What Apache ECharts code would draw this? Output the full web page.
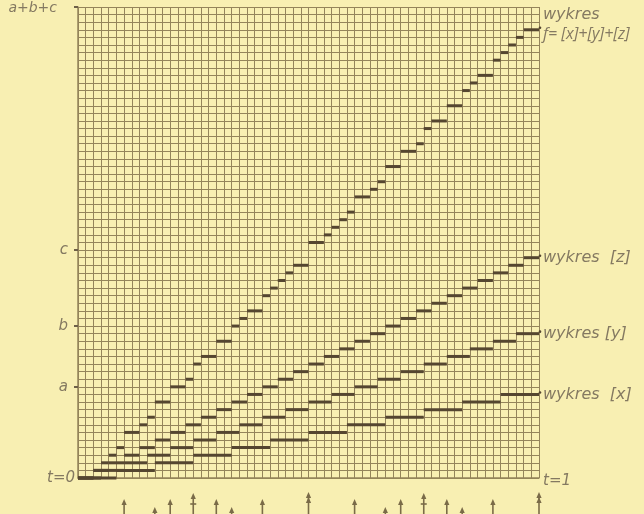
<!DOCTYPE html>
<html><head><meta charset="utf-8">
<script src="https://cdn.jsdelivr.net/npm/echarts@6/dist/echarts.min.js"></script>
<style>html,body{margin:0;padding:0;background:#f8efb2}#c{width:644px;height:514px}</style>
</head><body><div id="c"></div>
<script>
// grid: 60 columns (t from 0 to 1), 62 rows (0 .. a+b+c)
const colCount = 60;
const rowCount = 62;
const yTickValues = [12, 20, 30, 62];
const yTickLabels = ['a', 'b', 'c', 'a+b+c'];

// step graphs: start column of each step and its value
const xStart = [0,5,10,15,20,25,30,35,40,45,50,55];
const xValue = [0,1,2,3,4,5,6,7,8,9,10,11];
const yStart = [0,3,6,9,12,15,18,21,24,27,30,33,36,39,42,45,48,51,54,57];
const yValue = [0,1,2,3,4,5,6,7,8,9,10,11,12,13,14,15,16,17,18,19];
const zStart = [0,2,4,6,8,10,12,14,16,18,20,22,24,26,28,30,32,34,36,38,40,42,44,46,48,50,52,54,56,58];
const zValue = [0,1,2,3,4,5,6,7,8,9,10,11,12,13,14,15,16,17,18,19,20,21,22,23,24,25,26,27,28,29];
const fStart = [0,2,3,4,5,6,8,9,10,12,14,15,16,18,20,21,22,24,25,26,27,28,30,32,33,34,35,36,38,39,40,42,44,45,46,48,50,51,52,54,55,56,57,58];
const fValue = [0,1,2,3,4,6,7,8,10,12,13,15,16,18,20,21,22,24,25,26,27,28,31,32,33,34,35,37,38,39,41,43,44,46,47,49,51,52,53,55,56,57,58,59];

// arrows under the axis: columns where jumps coincide, and which graphs jump together
const arrowCol  = [6,10,12,15,18,20,24,30,36,40,42,45,48,50,54,60];
const arrowKind = ['yz','xz','yz','xy','yz','xz','yz','xyz','yz','xz','yz','xy','yz','xz','yz','xyz'];

// labels at the right end of each graph
const rightLabelValues = [59, 29, 19, 11];
const rightLabelTexts = ['{w|wykres}\n{f|f= [x]+[y]+[z]}', '{w|wykres  [z]}', '{w|wykres [y]}', '{w|wykres  [x]}'];
const tLabelCols = [0, 60];
const tLabelTexts = ['t=0', 't=1'];

const INK = '#554630';
const GRIDC = '#94845a';
const TEXTC = '#847961';
const FONT = 'DejaVu Sans';

function segData(starts, values) {
  return starts.map((s, i) => [s, i + 1 < starts.length ? starts[i + 1] : colCount, values[i]]);
}
function segRender(params, api) {
  const p1 = api.coord([api.value(0), api.value(2)]);
  const p2 = api.coord([api.value(1), api.value(2)]);
  return { type: 'line', shape: { x1: p1[0], y1: p1[1], x2: p2[0], y2: p2[1] },
           style: { stroke: INK, lineWidth: 3, lineCap: 'butt' } };
}
function segSeries(name, starts, values) {
  return { name, type: 'custom', renderItem: segRender, data: segData(starts, values),
           encode: { x: [0, 1], y: 2 }, z: 5, silent: true };
}
const ACOL = '#7a6b48';
function arrowRender(params, api) {
  const base = api.coord([api.value(0), 0]);
  const x = base[0], y0 = base[1];
  const kind = arrowKind[params.dataIndex];
  const top = { yz: 21, xz: 29, xy: 15, xyz: 14 }[kind];
  const head = (ty) => ({ type: 'polygon',
    shape: { points: [[x, y0 + ty], [x - 2.6, y0 + ty + 6], [x + 2.6, y0 + ty + 6]] },
    style: { fill: ACOL } });
  const ch = [
    { type: 'line', shape: { x1: x, y1: y0 + top + 3, x2: x, y2: y0 + 45 }, style: { stroke: ACOL, lineWidth: 1.6 } },
    head(top)
  ];
  if (kind === 'xyz') ch.push(head(top + 5));
  if (kind === 'xy') ch.push({ type: 'line', shape: { x1: x - 3, y1: y0 + top + 11, x2: x + 3, y2: y0 + top + 11 },
                               style: { stroke: ACOL, lineWidth: 1.6 } });
  return { type: 'group', children: ch };
}
function rightLabelRender(params, api) {
  const p = api.coord([api.value(0), api.value(1)]);
  const i = params.dataIndex;
  const multi = i === 0;
  return { type: 'group', children: [
    { type: 'circle', shape: { cx: p[0] + 1, cy: p[1] - 2, r: 1.3 }, style: { fill: INK } },
    { type: 'text', x: p[0] + 4, y: p[1] + (multi ? -5 : 0),
      style: { text: rightLabelTexts[i], fill: TEXTC, align: 'left', verticalAlign: 'middle',
               rich: {
                 w: { fill: TEXTC, fontFamily: FONT, fontStyle: 'italic', fontSize: 16, lineHeight: 20 },
                 f: { fill: TEXTC, fontFamily: 'Open Sans', fontStyle: 'italic', fontSize: 16, lineHeight: 20 }
               } } }
  ] };
}
function tLabelRender(params, api) {
  const p = api.coord([api.value(0), 0]);
  const i = params.dataIndex;
  return { type: 'text', x: p[0] + (i === 0 ? -3 : 4), y: p[1] + (i === 0 ? 0 : 3),
    style: { text: tLabelTexts[i], fill: TEXTC, font: 'italic 15px "' + FONT + '"',
             align: i === 0 ? 'right' : 'left', verticalAlign: 'middle' } };
}

const chart = echarts.init(document.getElementById('c'), null, { renderer: 'canvas' });
chart.setOption({
  backgroundColor: '#f8efb2',
  animation: false,
  grid: { left: 78, right: 105, top: 7, bottom: 36 },
  xAxis: {
    type: 'value', min: 0, max: colCount, interval: 1,
    axisLine: { show: true, lineStyle: { color: GRIDC, width: 1.5 } },
    axisTick: { show: false }, axisLabel: { show: false },
    splitLine: { show: true, lineStyle: { color: GRIDC, width: 1 } }
  },
  yAxis: [{
    type: 'value', min: 0, max: rowCount, interval: 1, position: 'left',
    axisLine: { show: true, lineStyle: { color: GRIDC, width: 1.5 } },
    axisTick: { show: false }, axisLabel: { show: false },
    splitLine: { show: true, lineStyle: { color: GRIDC, width: 1 } }
  }, {
    type: 'value', min: 0, max: rowCount, position: 'left', offset: 0,
    axisLine: { show: false },
    splitLine: { show: false },
    axisTick: { show: true, customValues: yTickValues, length: 4, lineStyle: { color: '#6e6048', width: 2 } },
    axisLabel: {
      show: true, customValues: yTickValues, margin: 10,
      formatter: function (v) { const i = yTickValues.indexOf(v); return i < 0 ? '' : (i === 3 ? '{top|' + yTickLabels[i] + '}' : yTickLabels[i]); },
      color: TEXTC, fontFamily: FONT, fontStyle: 'italic', fontSize: 15,
      rich: { top: { color: TEXTC, fontFamily: FONT, fontStyle: 'italic', fontSize: 14, padding: [2, 11, 0, 0] } }
    }
  }],
  series: [
    segSeries('[x]', xStart, xValue),
    segSeries('[y]', yStart, yValue),
    segSeries('[z]', zStart, zValue),
    segSeries('f', fStart, fValue),
    { type: 'custom', renderItem: arrowRender, data: arrowCol.map(c => [c, 0]), encode: { x: 0, y: 1 }, clip: false, silent: true },
    { type: 'custom', renderItem: rightLabelRender, data: rightLabelValues.map(v => [colCount, v]), encode: { x: 0, y: 1 }, clip: false, silent: true },
    { type: 'custom', renderItem: tLabelRender, data: tLabelCols.map(c => [c, 0]), encode: { x: 0, y: 1 }, clip: false, silent: true }
  ]
});
</script></body></html>
